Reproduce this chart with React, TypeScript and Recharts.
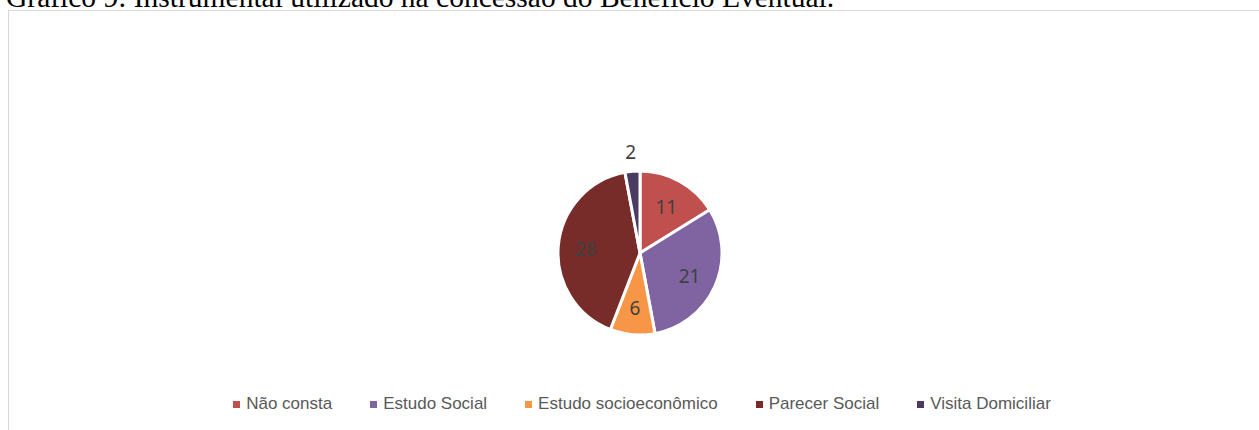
import React from 'react';
import { PieChart, Pie, Cell, Legend } from 'recharts';

const categories = ['Não consta', 'Estudo Social', 'Estudo socioeconômico', 'Parecer Social', 'Visita Domiciliar'];
const values = [11, 21, 6, 28, 2];
const colors = ['#C0504D', '#8064A2', '#F79646', '#772C2A', '#4B3A62'];

const data = categories.map((name, i) => ({ name, value: values[i] }));

const RADIAN = Math.PI / 180;

// labels inside the slices, the tiny one goes outside
const renderLabel = (props: any) => {
  const { cx, cy, midAngle, outerRadius, value } = props;
  const r = value < 4 ? outerRadius + 20 : outerRadius * 0.66;
  const x = cx + r * Math.cos(-midAngle * RADIAN);
  const y = cy + r * Math.sin(-midAngle * RADIAN);
  return (
    <text
      x={x}
      y={y + 1}
      fill="#404040"
      fontSize={19}
      fontFamily="'Noto Sans', 'Open Sans', sans-serif"
      textAnchor="middle"
      dominantBaseline="central"
    >
      {value}
    </text>
  );
};

const renderLegend = () => (
  <div
    style={{
      display: 'flex',
      justifyContent: 'center',
      gap: 38,
      paddingLeft: 16,
      fontFamily: "'Liberation Sans Narrow', 'Arial Narrow', 'Liberation Sans', sans-serif",
      fontSize: 17,
      color: '#595959',
    }}
  >
    {categories.map((c, i) => (
      <div key={c} style={{ display: 'flex', alignItems: 'center' }}>
        <span style={{ width: 7, height: 7, background: colors[i], display: 'inline-block', marginRight: 6 }} />
        <span>{c}</span>
      </div>
    ))}
  </div>
);

export default function App() {
  return (
    <div
      style={{
        position: 'absolute',
        left: 0,
        top: 0,
        width: 1259,
        height: 430,
        overflow: 'hidden',
        background: '#fff',
      }}
    >
      <div
        style={{
          position: 'absolute',
          left: 6,
          top: -13,
          fontFamily: "'Liberation Serif', 'Times New Roman', serif",
          fontSize: 29.5,
          lineHeight: '20px',
          whiteSpace: 'nowrap',
          color: '#000',
        }}
      >
        Gráfico 9: Instrumental utilizado na concessão do Benefício Eventual.
      </div>
      <div
        style={{
          position: 'absolute',
          left: 8,
          top: 10,
          width: 1250,
          height: 440,
          border: '1px solid #D9D9D9',
          background: '#fff',
        }}
      >
        <PieChart width={1250} height={430}>
          <Pie
            data={data}
            dataKey="value"
            nameKey="name"
            cx={626}
            cy={237}
            outerRadius={82}
            startAngle={90}
            endAngle={-270}
            stroke="#fff"
            strokeWidth={3}
            label={renderLabel}
            labelLine={false}
            isAnimationActive={false}
          >
            {data.map((entry, index) => (
              <Cell key={`cell-${index}`} fill={colors[index]} />
            ))}
          </Pie>
          <Legend content={renderLegend} wrapperStyle={{ top: 383, left: 0, width: 1250 }} />
        </PieChart>
      </div>
    </div>
  );
}
